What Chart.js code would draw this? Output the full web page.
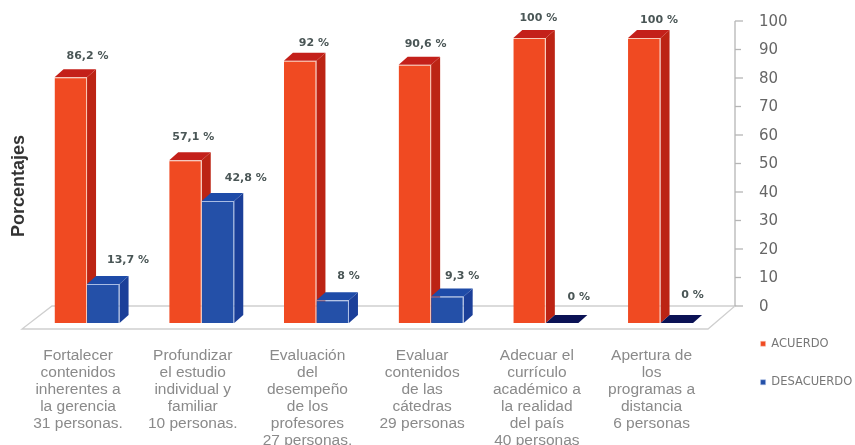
<!DOCTYPE html>
<html><head><meta charset="utf-8">
<style>html,body{margin:0;padding:0;background:#fff}canvas{display:block;filter:blur(0.7px)}</style>
<script src="https://cdn.jsdelivr.net/npm/chart.js@4"></script></head>
<body><canvas id="c" width="855" height="445"></canvas>
<script>
const categories = [
 ["Fortalecer","contenidos","inherentes a","la gerencia","31 personas."],
 ["Profundizar","el estudio","individual y","familiar","10 personas."],
 ["Evaluación","del","desempeño","de los","profesores","27 personas."],
 ["Evaluar","contenidos","de las","cátedras","29 personas"],
 ["Adecuar el","currículo","académico a","la realidad","del país","40 personas"],
 ["Apertura de","los","programas a","distancia","6 personas"]
];
const acuerdo = [86.2, 57.1, 92, 90.6, 100, 100];
const desacuerdo = [13.7, 42.8, 8, 9.3, 0, 0];
const acuerdoText = ["86,2 %","57,1 %","92 %","90,6 %","100 %","100 %"];
const desacuerdoText = ["13,7 %","42,8 %","8 %","9,3 %","0 %","0 %"];
const yTicks = [0,10,20,30,40,50,60,70,80,90,100];

// placement of the value labels relative to each bar's top-left corner
const labelDx = [[33,24,30,27,25,31],[41,44,32,31,33,32]];
const labelDy = [[-21,-23,-18,-21,-20,-18],[-24,-23,-24,-20,-26,-28]];

const DX = 9, DY = 8, WALL = 17;
function poly(ctx, pts, fill){ ctx.fillStyle = fill; ctx.beginPath(); pts.forEach((p,i)=> i?ctx.lineTo(p[0],p[1]):ctx.moveTo(p[0],p[1])); ctx.closePath(); ctx.fill(); }

const depth = {
 id:'depth',
 afterLayout(chart){
  chart.scales.y.right = chart.width;
  chart.scales.x.bottom = chart.height;
 },
 beforeDatasetsDraw(chart){
  const c = chart.ctx, y = chart.scales.y;
  const base = y.getPixelForValue(0), by = base - WALL, fy = base + 6;
  c.save();
  c.strokeStyle = '#cfcfcf'; c.lineWidth = 1.3;
  c.beginPath(); c.moveTo(22,fy); c.lineTo(708,fy); c.lineTo(735,by); c.lineTo(52,by); c.closePath(); c.stroke();
  c.strokeStyle = '#b5b5b5';
  c.beginPath(); c.moveTo(735, y.getPixelForValue(100)-WALL); c.lineTo(735, by); c.stroke();
  yTicks.forEach(t=>{ const p = y.getPixelForValue(t)-WALL; c.beginPath(); c.moveTo(735,p); c.lineTo(t%20?741:743,p); c.stroke(); });
  const looks = [{side:'#BC2414',top:'#C4201A',zero:'#BC2414'},{side:'#1B3F99',top:'#1E4BA8',zero:'#0B1255'}];
  const m0 = chart.getDatasetMeta(0).data, m1 = chart.getDatasetMeta(1).data;
  m0.forEach((_,i)=>{
   [m0[i],m1[i]].forEach((b,k)=>{
    const L = b.x-b.width/2, R = b.x+b.width/2, T = b.y, Bt = b.base;
    const v = k? desacuerdo[i] : acuerdo[i];
    const col = looks[k];
    if(v>0) poly(c,[[R,T],[R+DX,T-DY],[R+DX,Bt-DY],[R,Bt]],col.side);
    poly(c,[[L,T],[R,T],[R+DX,T-DY],[L+DX,T-DY]], v>0?col.top:col.zero);
   });
  });
  c.restore();
 },
 afterDatasetsDraw(chart){
  const c = chart.ctx;
  c.save();
  c.font = 'bold 11px "DejaVu Sans"'; c.fillStyle = '#4a5656'; c.textAlign='center'; c.textBaseline='middle';
  [[0,acuerdoText],[1,desacuerdoText]].forEach(([d,txt])=>{
   chart.getDatasetMeta(d).data.forEach((b,i)=>{
    c.fillText(txt[i], b.x-b.width/2+labelDx[d][i], b.y+labelDy[d][i]);
   });
  });
  c.translate(19,186); c.rotate(-Math.PI/2);
  c.font = 'bold 18px "Liberation Sans"'; c.fillStyle='#333';
  c.fillText('Porcentajes',0,0);
  c.restore();
 }
};

new Chart(document.getElementById('c'),{
 type:'bar',
 data:{labels:categories,datasets:[
  {label:'ACUERDO',data:acuerdo,backgroundColor:'#F04A22',borderColor:'#F9C9B8',borderWidth:{right:1,top:1},borderSkipped:'bottom'},
  {label:'DESACUERDO',data:desacuerdo,backgroundColor:'#2450A8',borderColor:'#A9BCE4',borderWidth:{right:1,top:1},borderSkipped:'bottom'}
 ]},
 options:{
  responsive:false,animation:false,
  layout:{autoPadding:false,padding:{left:29.7,top:22,right:-7.25,bottom:30}},
  datasets:{bar:{categoryPercentage:0.567,barPercentage:1}},
  plugins:{
   tooltip:{enabled:false},
   legend:{position:'right',align:'end',
    labels:{boxWidth:5,boxHeight:5,padding:27,color:'#777',font:{family:'"DejaVu Sans"',size:11.5}}}
  },
  scales:{
   x:{grid:{display:false},border:{display:false},
    ticks:{autoSkip:false,maxRotation:0,minRotation:0,labelOffset:-9,padding:16,color:'#8a8a8a',
     font:{family:'"Liberation Sans"',size:15.5,lineHeight:'17px'}},
    afterFit(s){s.height=92;}},
   y:{position:'right',min:0,max:100,grid:{display:false,tickLength:12},border:{display:false},
    ticks:{stepSize:10,labelOffset:-16,padding:29,color:'#666',font:{family:'"DejaVu Sans"',size:15}},
    afterFit(s){s.width=15.7;}}
  }
 },
 plugins:[depth]
});
</script></body></html>
